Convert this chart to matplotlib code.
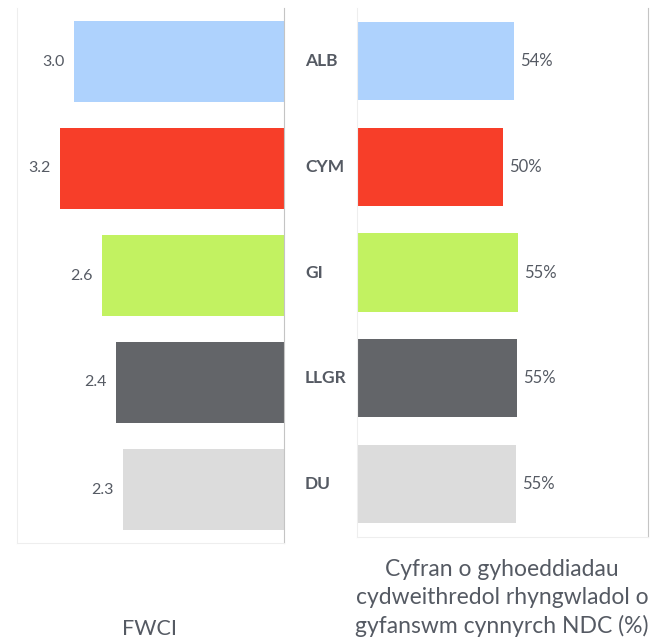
import matplotlib as mpl
import matplotlib.pyplot as plt
import matplotlib.transforms as mtransforms

categories = ["ALB", "CYM", "GI", "LLGR", "DU"]
fwci = [3.0, 3.2, 2.6, 2.4, 2.3]
collab_share = [53.8, 50.2, 55.3, 55.1, 54.7]
colors = ["#aed2fd", "#f73e29", "#c2f261", "#636569", "#dcdcdc"]

TXT = "#555a63"
FAINT = "#eeeeee"
EDGE = "#c4c4c4"

mpl.rcParams.update({"font.family": ["Lato", "DejaVu Sans"], "text.color": TXT})

W, H = 660, 643
fig = plt.figure(figsize=(W / 100, H / 100), dpi=100)


def px_axes(x0, x1, y0, y1):
    return fig.add_axes([x0 / W, 1 - y1 / H, (x1 - x0) / W, (y1 - y0) / H])


def style(ax):
    ax.spines["top"].set_visible(False)
    for s in ("left", "bottom"):
        ax.spines[s].set_color(FAINT)
    ax.spines["right"].set_color(EDGE)
    ax.set_xticks([])
    ax.set_yticks([])


pos = range(len(categories))

# left panel: FWCI, bars growing leftwards
ax1 = px_axes(17, 284, 8, 543)
ax1.barh(pos, fwci, height=0.75, color=colors)
ax1.set_xlim(3.81, 0)
ax1.set_ylim(4.5, -0.5)
style(ax1)
for i, v in enumerate(fwci):
    ax1.annotate(f"{v:.1f}", (v, i), xytext=(-6.5, 0), textcoords="offset points",
                 ha="right", va="center", fontsize=11.5, color=TXT)

# right panel: share of international collaborative publications
ax2 = px_axes(357, 648, 8, 537)
ax2.barh(pos, collab_share, height=0.74, color=colors)
ax2.set_xlim(0, 100)
ax2.set_ylim(4.5, -0.5)
style(ax2)
for i, v in enumerate(collab_share):
    ax2.annotate(f"{v:.0f}%", (v, i), xytext=(4.5, 0), textcoords="offset points",
                 ha="left", va="center", fontsize=12, color=TXT)

trans = mtransforms.blended_transform_factory(ax2.transAxes, ax2.transData)
for i, c in enumerate(categories):
    ax2.text(-0.179, i, c, transform=trans, ha="left", va="center",
             fontsize=12.5, fontweight="bold", color=TXT, clip_on=False)

fig.text(150 / W, 1 - 629 / H, "FWCI", ha="center", va="center", fontsize=15.5, color=TXT)
fig.text(502 / W, 1 - 598 / H,
         "Cyfran o gyhoeddiadau\ncydweithredol rhyngwladol o\ngyfanswm cynnyrch NDC (%)",
         ha="center", va="center", fontsize=16.5, color=TXT, linespacing=1.42)

fig.savefig("out.png", dpi=100)
